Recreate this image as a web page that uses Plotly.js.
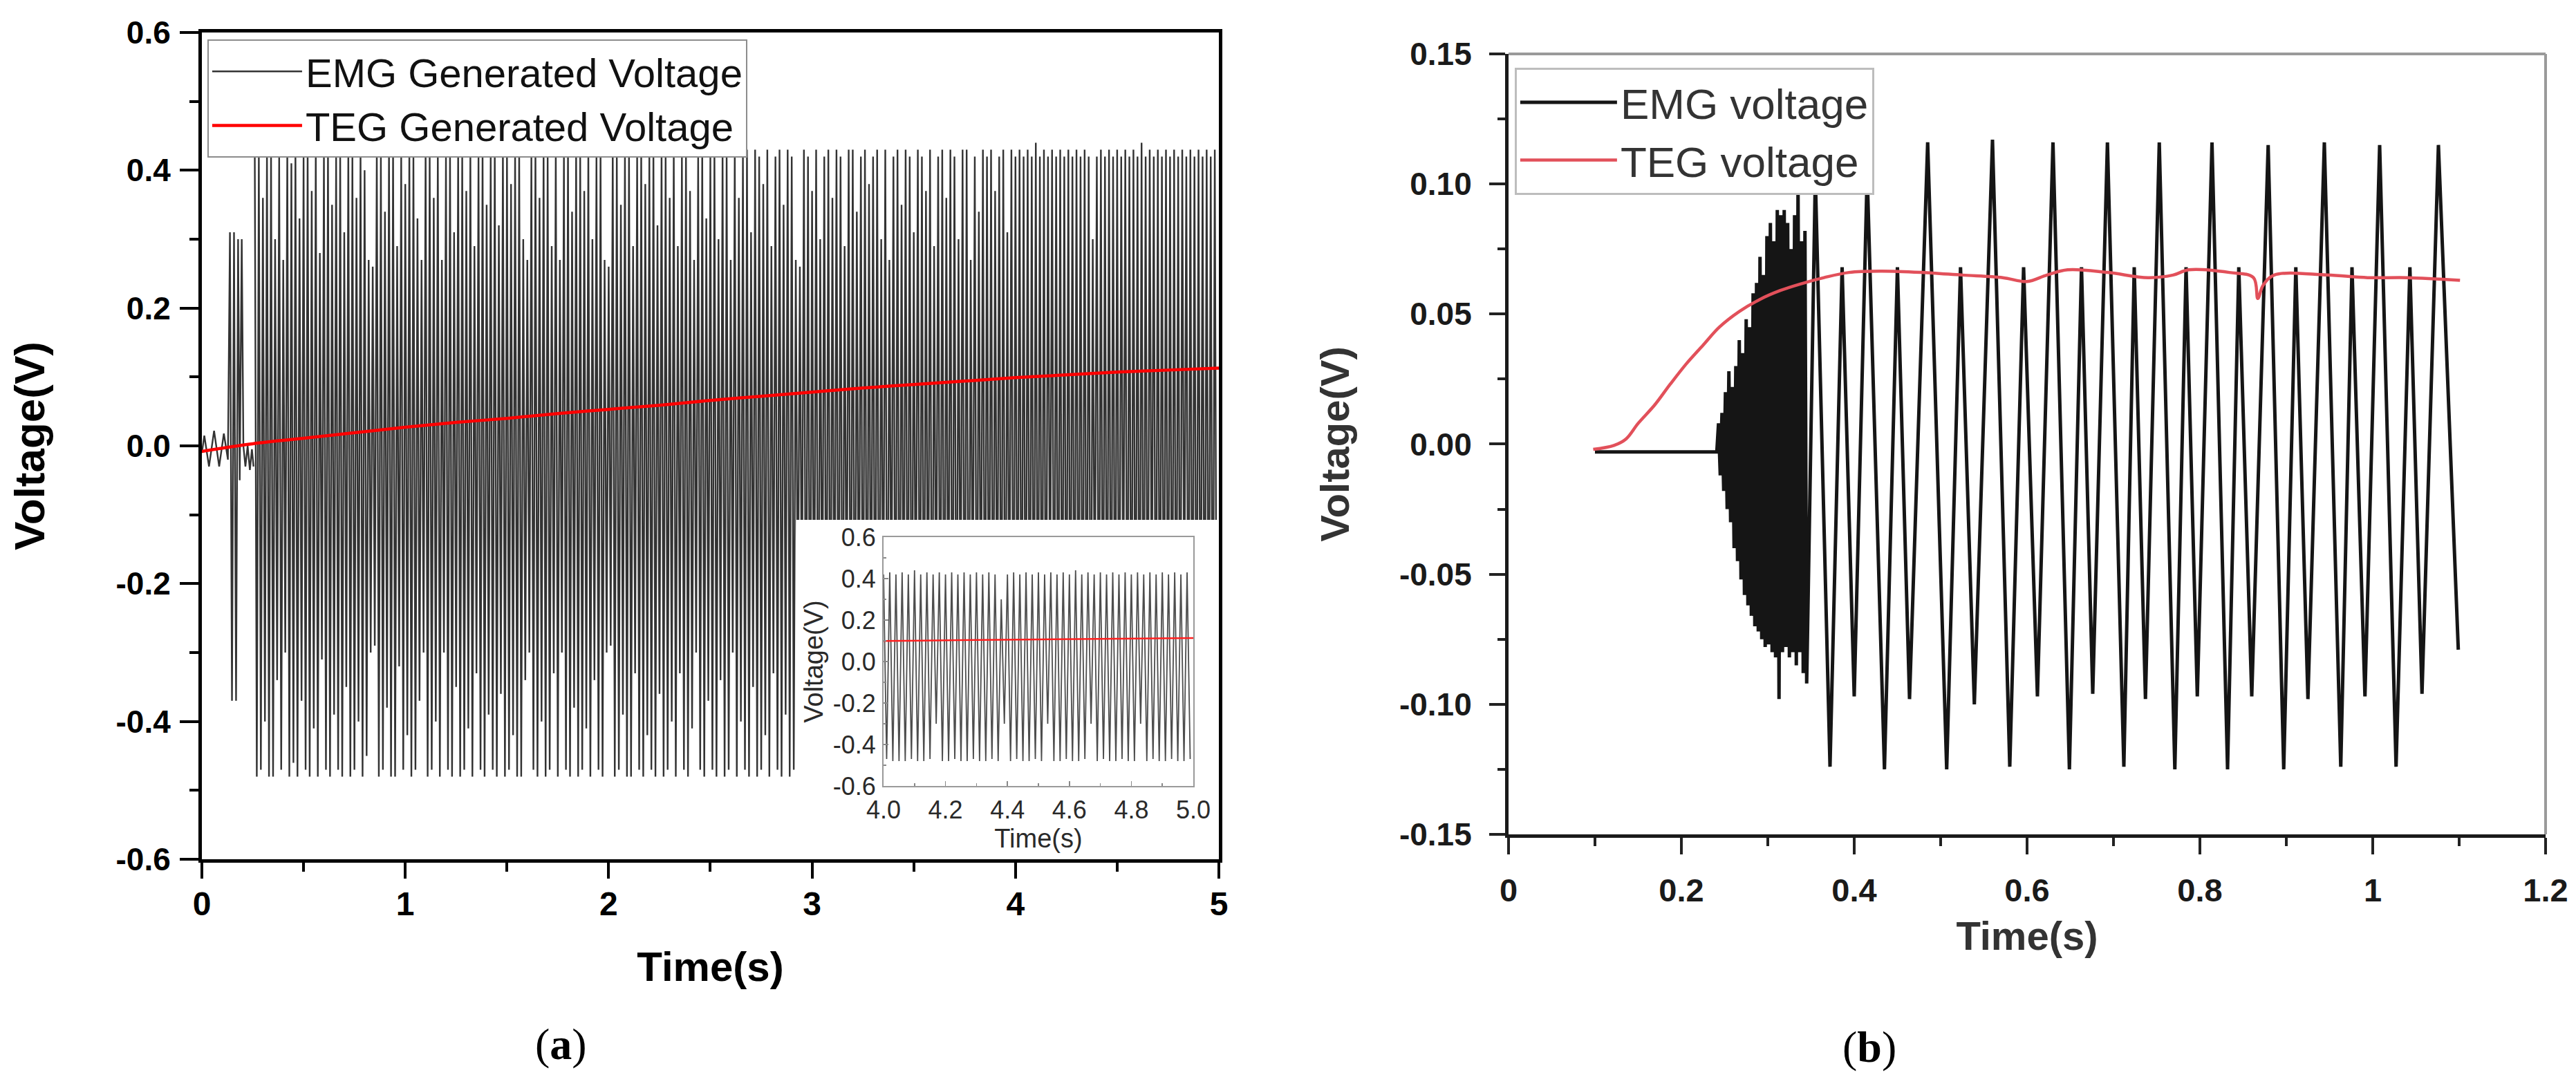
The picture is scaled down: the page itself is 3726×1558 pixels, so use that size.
<!DOCTYPE html>
<html><head><meta charset="utf-8">
<script src="https://cdn.plot.ly/plotly-3.0.1.min.js"></script>
<style>html,body{margin:0;padding:0;background:#fff}#chart{width:3726px;height:1558px}</style>
</head><body><div id="chart"></div>
<script>
// ---------- Panel (a): EMG / TEG over 0-5 s ----------
const emgEarlyT = [0, 0.012, 0.035, 0.06, 0.085, 0.108, 0.128, 0.138, 0.148, 0.158, 0.168, 0.178, 0.186, 0.196, 0.204, 0.214, 0.225, 0.236, 0.246, 0.254];
const emgEarlyV = [-0.01, 0.015, -0.03, 0.022, -0.03, 0.018, -0.02, 0.31, -0.37, 0.31, -0.37, 0.30, -0.05, 0.30, 0.0, -0.03, 0.0, -0.035, -0.005, -0.03];
const emgStart = 0.26;      // s, first sample of dense section
const emgStep = 0.01;       // s between successive extrema
const emgPeaks = [
 .43,.42,.36,.43,.43,.30,.42,.27,.43,.41, .43,.33,.42,.43,.37,.43,.28,.42,.43,.35,
 .42,.43,.31,.43,.42,.36,.43,.40,.27,.26, .43,.42,.34,.43,.43,.29,.42,.38,.43,.42,
 .33,.27,.43,.42,.36,.43,.27,.42,.43,.31, .43,.42,.37,.43,.29,.42,.43,.35,.42,.43,
 .32,.43,.42,.38,.43,.43,.30,.27,.42,.43, .36,.43,.42,.29,.43,.27,.42,.43,.34,.43,
 .42,.37,.43,.30,.42,.43,.27,.26,.43,.42, .35,.43,.43,.29,.42,.43,.38,.42,.43,.32,
 .43,.42,.36,.43,.29,.42,.43,.37,.27,.42, .43,.33,.42,.43,.30,.43,.42,.27,.43,.36,
 .42,.43,.31,.43,.42,.38,.43,.29,.42,.43, .35,.43,.42,.27,.26,.43,.42,.37,.43,.30,
 .42,.43,.36,.43,.42,.29,.43,.43,.34,.42, .43,.38,.42,.43,.30,.43,.27,.42,.43,.35,
 .43,.42,.31,.43,.42,.37,.43,.29,.42,.43, .36,.43,.42,.30,.43,.43,.27,.42,.34,.43,
 .42,.43,.37,.42,.43,.31,.43,.42,.43,.42, .43,.42,.44,.42,.43,.42,.43,.42,.43,.42,
 .43,.42,.43,.42,.43,.42,.30,.42,.43,.42, .43,.42,.43,.42,.43,.42,.43,.42,.44,.42,
 .43,.42,.43,.42,.43,.42,.43,.42,.43,.42, .43,.42,.43,.42,.43,.42,.43];
const emgTroughs = [
 -.48,-.47,-.40,-.48,-.48,-.34,-.47,-.30,-.48,-.46, -.48,-.37,-.47,-.48,-.41,-.48,-.31,-.47,-.48,-.39,
 -.47,-.48,-.35,-.48,-.47,-.40,-.48,-.45,-.30,-.29, -.48,-.47,-.38,-.48,-.48,-.32,-.47,-.42,-.48,-.47,
 -.37,-.30,-.48,-.47,-.40,-.48,-.30,-.47,-.48,-.35, -.48,-.47,-.41,-.48,-.33,-.47,-.48,-.39,-.47,-.48,
 -.36,-.48,-.47,-.42,-.48,-.48,-.34,-.30,-.47,-.48, -.40,-.48,-.47,-.33,-.48,-.30,-.47,-.48,-.38,-.48,
 -.47,-.41,-.48,-.34,-.47,-.48,-.30,-.29,-.48,-.47, -.39,-.48,-.48,-.33,-.47,-.48,-.42,-.47,-.48,-.36,
 -.48,-.47,-.40,-.48,-.33,-.47,-.48,-.41,-.30,-.47, -.48,-.37,-.47,-.48,-.34,-.48,-.47,-.30,-.48,-.40,
 -.47,-.48,-.35,-.48,-.47,-.42,-.48,-.33,-.47,-.48, -.39,-.48,-.47,-.30,-.29,-.48,-.47,-.41,-.48,-.34,
 -.47,-.48,-.40,-.48,-.47,-.33,-.48,-.48,-.38,-.47, -.48,-.42,-.47,-.48,-.34,-.48,-.30,-.47,-.48,-.39,
 -.48,-.47,-.35,-.48,-.47,-.41,-.48,-.33,-.47,-.48, -.40,-.48,-.47,-.34,-.48,-.48,-.30,-.47,-.38,-.48,
 -.47,-.48,-.41,-.47,-.48,-.35,-.48,-.47,-.48,-.48, -.48,-.47,-.48,-.48,-.47,-.30,-.48,-.48,-.47,-.48,
 -.48,-.47,-.48,-.48,-.47,-.48,-.30,-.48,-.47,-.48, -.48,-.47,-.48,-.30,-.48,-.48,-.47,-.48,-.48,-.47,
 -.30,-.48,-.47,-.48,-.48,-.47,-.48,-.48,-.30,-.48, -.47,-.48,-.48,-.47,-.48,-.48,-.47];
const tegAT = [0, 0.25, 0.5, 0.75, 1, 1.25, 1.5, 1.75, 2, 2.25, 2.5, 2.75, 3, 3.25, 3.5, 3.75, 4, 4.25, 4.5, 4.75, 5];
const tegAV = [-0.008, 0.003, 0.011, 0.019, 0.027, 0.034, 0.040, 0.047, 0.053, 0.059, 0.066, 0.072, 0.078, 0.084, 0.089, 0.094, 0.099, 0.103, 0.107, 0.110, 0.113];

// ---------- Panel (b): EMG / TEG over 0.1-1.1 s ----------
const emgFlatT = [0.1, 0.241];
const emgFlatV = [-0.003, -0.003];
const burstT = [0.243,0.245,0.247,0.249,0.251,0.253,0.255,0.257,0.259,0.261,0.263,0.265,0.267,0.269,0.271,0.273,0.275,0.277,0.279,0.281,0.283,0.285,0.287,0.289,0.291,0.293,0.295,0.297,0.299,0.301,0.303,0.305,0.307,0.309,0.311,0.313,0.315,0.317,0.319,0.321,0.323,0.325,0.327,0.329,0.331,0.333,0.335,0.337,0.339,0.341,0.343,0.345];
const burstV = [0.008,-0.012,0.012,-0.018,0.02,-0.025,0.028,-0.03,0.022,-0.04,0.03,-0.045,0.04,-0.052,0.035,-0.058,0.048,-0.062,0.045,-0.066,0.058,-0.07,0.062,-0.072,0.072,-0.075,0.065,-0.078,0.08,-0.077,0.085,-0.08,0.078,-0.082,0.09,-0.098,0.088,-0.08,0.09,-0.078,0.085,-0.082,0.075,-0.08,0.088,-0.085,0.1,-0.08,0.078,-0.088,0.082,-0.092];
const oscT = [0.355,0.372,0.386,0.400,0.415,0.435,0.450,0.464,0.485,0.507,0.523,0.539,0.560,0.580,0.596,0.612,0.630,0.649,0.663,0.676,0.693,0.712,0.724,0.737,0.753,0.771,0.784,0.797,0.814,0.832,0.845,0.860,0.879,0.897,0.911,0.925,0.944,0.963,0.976,0.991,1.008,1.027,1.043,1.057,1.076,1.099];
const oscV = [0.103,-0.124,0.068,-0.097,0.104,-0.125,0.068,-0.098,0.116,-0.125,0.068,-0.100,0.117,-0.124,0.068,-0.097,0.116,-0.125,0.068,-0.096,0.116,-0.124,0.068,-0.098,0.116,-0.125,0.068,-0.097,0.116,-0.125,0.068,-0.097,0.115,-0.125,0.068,-0.098,0.116,-0.124,0.068,-0.097,0.115,-0.124,0.068,-0.096,0.115,-0.079];
const tegBT = [0.098,0.122,0.136,0.15,0.169,0.187,0.206,0.225,0.244,0.267,0.29,0.314,0.337,0.365,0.394,0.431,0.478,0.525,0.572,0.6,0.623,0.647,0.693,0.74,0.769,0.787,0.834,0.862,0.867,0.873,0.886,0.947,0.994,1.04,1.101];
const tegBV = [-0.002,-0.0005,0.002,0.008,0.015,0.023,0.031,0.038,0.045,0.051,0.0555,0.059,0.0615,0.064,0.066,0.0665,0.066,0.065,0.064,0.0625,0.065,0.067,0.066,0.064,0.065,0.067,0.066,0.064,0.056,0.061,0.065,0.065,0.064,0.064,0.063];

// ---------- Tick labels ----------
const yTickValsA = [-0.6,-0.4,-0.2,0,0.2,0.4,0.6];
const yTickTextA = ['-0.6','-0.4','-0.2','0.0','0.2','0.4','0.6'];
const xTickValsIn = [4.0,4.2,4.4,4.6,4.8,5.0];
const xTickTextIn = ['4.0','4.2','4.4','4.6','4.8','5.0'];
const yTickValsB = [-0.15,-0.10,-0.05,0,0.05,0.10,0.15];
const yTickTextB = ['-0.15','-0.10','-0.05','0.00','0.05','0.10','0.15'];

// build interleaved dense series (peak, trough, peak, trough ...)
const emgMainV = [];
for (let i = 0; i < emgPeaks.length; i++) { emgMainV.push(emgPeaks[i], emgTroughs[i]); }
const emgBT = emgFlatT.concat(burstT, oscT);
const emgBV = emgFlatV.concat(burstV, oscV);

const FAM = 'Liberation Sans, Arial, sans-serif';
const fb = (size, color) => ({family: FAM, size: size, color: color || '#000', weight: 'bold'});
const fr = (size, color) => ({family: FAM, size: size, color: color || '#000'});

const traces = [
  {type:'scatter', mode:'lines', x: emgEarlyT, y: emgEarlyV, xaxis:'x', yaxis:'y', name:'EMG Generated Voltage',
   legend:'legend', legendgroup:'emga', line:{color:'#333333', width:2.4}, hoverinfo:'skip'},
  {type:'scatter', mode:'lines', x0: emgStart, dx: emgStep, y: emgMainV, xaxis:'x', yaxis:'y', name:'EMG Generated Voltage',
   legendgroup:'emga', showlegend:false, line:{color:'#333333', width:2.4}, hoverinfo:'skip'},
  {type:'scatter', mode:'lines', x: tegAT, y: tegAV, xaxis:'x', yaxis:'y', name:'TEG Generated Voltage',
   legend:'legend', line:{color:'#ff0000', width:4.5, shape:'spline'}, hoverinfo:'skip'},
  {type:'scatter', mode:'lines', x: [], y: [], xaxis:'x3', yaxis:'y3', showlegend:false, hoverinfo:'skip'},
  {type:'scatter', mode:'lines', x0: emgStart, dx: emgStep, y: emgMainV, xaxis:'x4', yaxis:'y4', showlegend:false,
   line:{color:'#4d4d4d', width:1.8}, hoverinfo:'skip'},
  {type:'scatter', mode:'lines', x: tegAT, y: tegAV, xaxis:'x4', yaxis:'y4', showlegend:false,
   line:{color:'#ff2020', width:2.5, shape:'spline'}, hoverinfo:'skip'},
  {type:'scatter', mode:'lines', x: emgBT, y: emgBV, xaxis:'x2', yaxis:'y2', name:'EMG voltage', legend:'legend2',
   line:{color:'#151515', width:5}, hoverinfo:'skip'},
  {type:'scatter', mode:'lines', x: tegBT, y: tegBV, xaxis:'x2', yaxis:'y2', name:'TEG voltage', legend:'legend2',
   line:{color:'#e2505a', width:4.5, shape:'spline'}, hoverinfo:'skip'}
];

const layout = {
  width: 3726, height: 1558, margin:{l:0, r:0, t:0, b:0}, autosize:false,
  paper_bgcolor:'#fff', plot_bgcolor:'#fff', showlegend:true, hovermode:false,
  // panel (a) main
  xaxis: {domain:[0.07837, 0.47316], anchor:'y', range:[0,5], tickmode:'linear', tick0:0, dtick:1,
    ticks:'outside', ticklen:23, tickwidth:4, tickcolor:'#000',
    minor:{tickmode:'linear', tick0:0, dtick:0.5, ticks:'outside', ticklen:13, tickwidth:4, tickcolor:'#000'},
    showline:true, linewidth:5, linecolor:'#000', mirror:true, showgrid:false, zeroline:false,
    tickfont: fb(48), ticklabelstandoff: -5, automargin:false, fixedrange:true,
    title:{text:'Time(s)', font: fb(60), standoff: 46}},
  yaxis: {domain:[0.20218, 0.96983], anchor:'x', range:[-0.6,0.6], tickmode:'array', tickvals: yTickValsA, ticktext: yTickTextA,
    ticks:'outside', ticklen:27, tickwidth:4, tickcolor:'#000',
    minor:{tickmode:'linear', tick0:0, dtick:0.1, ticks:'outside', ticklen:13, tickwidth:4, tickcolor:'#000'},
    showline:true, linewidth:5, linecolor:'#000', mirror:true, showgrid:false, zeroline:false,
    tickfont: fb(46), ticklabelstandoff: 4, automargin:false, fixedrange:true,
    title:{text:'Voltage(V)', font: fb(62), standoff: 84}},
  // panel (b)
  xaxis2: {domain:[0.58561, 0.98819], anchor:'y2', range:[0,1.2], tickmode:'linear', tick0:0, dtick:0.2,
    ticks:'outside', ticklen:24, tickwidth:4, tickcolor:'#222',
    minor:{tickmode:'linear', tick0:0, dtick:0.1, ticks:'outside', ticklen:12, tickwidth:4, tickcolor:'#222'},
    showline:true, linewidth:5, linecolor:'#1a1a1a', mirror:false, showgrid:false, zeroline:false,
    tickfont: fb(47, '#1a1a1a'), ticklabelstandoff: 12, automargin:false, fixedrange:true,
    title:{text:'Time(s)', font: fb(58, '#333'), standoff: 22}},
  yaxis2: {domain:[0.22529, 0.94994], anchor:'x2', range:[-0.15,0.15], tickmode:'array', tickvals: yTickValsB, ticktext: yTickTextB,
    ticks:'outside', ticklen:23, tickwidth:4, tickcolor:'#222',
    minor:{tickmode:'linear', tick0:0, dtick:0.025, ticks:'outside', ticklen:11, tickwidth:4, tickcolor:'#222'},
    showline:true, linewidth:5, linecolor:'#1a1a1a', mirror:false, showgrid:false, zeroline:false,
    tickfont: fb(46, '#1a1a1a'), ticklabelstandoff: 16, automargin:false, fixedrange:true,
    title:{text:'Voltage(V)', font: fb(58, '#333'), standoff: 55}},
  // blank white backdrop for the inset
  xaxis3: {domain:[0.30918, 0.47316], anchor:'y3', range:[0,1], visible:false, fixedrange:true},
  yaxis3: {domain:[0.20218, 0.51733], anchor:'x3', range:[0,1], visible:false, fixedrange:true},
  // inset
  xaxis4: {domain:[0.34299, 0.46323], anchor:'y4', range:[4,5], tickmode:'array', tickvals: xTickValsIn, ticktext: xTickTextIn,
    ticks:'inside', ticklen:7, tickwidth:1.5, tickcolor:'#888',
    minor:{tickmode:'linear', tick0:4, dtick:0.1, ticks:'inside', ticklen:4, tickwidth:1.5, tickcolor:'#888'},
    showline:true, linewidth:2, linecolor:'#9a9a9a', mirror:true, showgrid:false, zeroline:false,
    tickfont: fr(36, '#2a2a2a'), ticklabelstandoff: 2, automargin:false, fixedrange:true,
    title:{text:'Time(s)', font: fr(38, '#2a2a2a'), standoff: 2}},
  yaxis4: {domain:[0.27022, 0.50128], anchor:'x4', range:[-0.6,0.6], tickmode:'array', tickvals: yTickValsA, ticktext: yTickTextA,
    ticks:'inside', ticklen:7, tickwidth:1.5, tickcolor:'#888',
    minor:{tickmode:'linear', tick0:0, dtick:0.1, ticks:'inside', ticklen:4, tickwidth:1.5, tickcolor:'#888'},
    showline:true, linewidth:2, linecolor:'#9a9a9a', mirror:true, showgrid:false, zeroline:false,
    tickfont: fr(36, '#2a2a2a'), ticklabelstandoff: 2, automargin:false, fixedrange:true,
    title:{text:'Voltage(V)', font: fr(38, '#2a2a2a'), standoff: 2}},
  legend: {x: 0.0805, y: 0.9634, xanchor:'left', yanchor:'top', bgcolor:'#fff', bordercolor:'#8c8c8c', borderwidth:2,
    font: fr(58, '#111'), itemwidth: 130, traceorder:'normal', tracegroupgap:0},
  legend2: {x: 0.588, y: 0.937, xanchor:'left', yanchor:'top', bgcolor:'#fff', bordercolor:'#bdbdbd', borderwidth:3,
    font: fr(62, '#333'), itemwidth: 140, traceorder:'normal', tracegroupgap:0},
  shapes: [
    {type:'line', xref:'x2 domain', yref:'y2 domain', x0:0, x1:1, y0:1, y1:1, line:{color:'#9a9a9a', width:4}, layer:'above'},
    {type:'line', xref:'x2 domain', yref:'y2 domain', x0:1, x1:1, y0:0, y1:1, line:{color:'#9a9a9a', width:4}, layer:'above'}
  ],
  annotations: [
    {text:'(<b>a</b>)', xref:'paper', yref:'paper', x:0.2179, y:0.0308, xanchor:'center', yanchor:'middle', showarrow:false,
     font:{family:'Liberation Serif, Times New Roman, serif', size:64, color:'#000'}},
    {text:'(<b>b</b>)', xref:'paper', yref:'paper', x:0.7257, y:0.0276, xanchor:'center', yanchor:'middle', showarrow:false,
     font:{family:'Liberation Serif, Times New Roman, serif', size:64, color:'#000'}}
  ]
};

Plotly.newPlot('chart', traces, layout, {staticPlot:true, displayModeBar:false});
</script></body></html>
